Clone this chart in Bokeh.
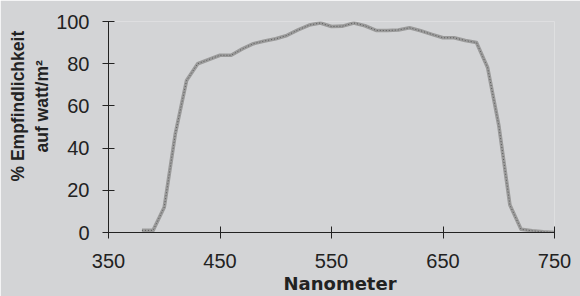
from bokeh.plotting import figure
from bokeh.models import Range1d, FixedTicker, Title
from bokeh.embed import file_html
from bokeh.resources import INLINE

# ---- data ----
nanometer = [380, 390, 400, 410, 420, 430, 440, 450, 460, 470, 480, 490, 500,
             510, 520, 530, 540, 550, 560, 570, 580, 590, 600, 610, 620, 630,
             640, 650, 660, 670, 680, 690, 700, 710, 720, 730, 740, 750]
sensitivity = [1, 1, 12, 47, 72, 80, 82, 84, 84, 87, 89.5, 90.8, 91.8,
               93.4, 96, 98.3, 99.3, 97.6, 97.8, 99.3, 98, 95.8, 95.7, 96, 97, 95.6,
               93.9, 92.3, 92.3, 91, 90, 78.2, 50.9, 13, 1.5, 0.8, 0.3, 0]
x_ticks = [350, 450, 550, 650, 750]
y_ticks = [0, 20, 40, 60, 80, 100]
x_title = "Nanometer"
y_title_1 = "% Empfindlichkeit"
y_title_2 = "auf watt/m²"

BG = "#d3d4d6"
INK = "#222222"

p = figure(width=580, height=296, output_backend="svg", toolbar_location=None,
           x_range=Range1d(350, 750), y_range=Range1d(0, 100),
           min_border_left=108, min_border_right=26, min_border_top=21,
           min_border_bottom=64)
p.background_fill_color = BG
p.border_fill_color = BG
p.outline_line_color = None
p.grid.grid_line_color = None

for ax in (p.xaxis[0], p.yaxis[0]):
    ax.axis_line_color = INK
    ax.axis_line_width = 1
    ax.major_tick_line_color = INK
    ax.major_tick_in = 6
    ax.major_tick_out = 6
    ax.minor_tick_line_color = None
    ax.major_label_text_font = "Liberation Sans"
    ax.major_label_text_font_size = "20px"
    ax.major_label_text_color = INK
p.xaxis.ticker = FixedTicker(ticks=x_ticks)
p.yaxis.ticker = FixedTicker(ticks=y_ticks)
p.xaxis.major_label_standoff = 15
p.yaxis.major_label_standoff = 13

# curve: grey band with darker dotted texture
p.line(nanometer, sensitivity, line_color="#9b9b9b", line_width=3.6, line_join="round")
p.line(nanometer, sensitivity, line_color="#5a5a5a", line_width=1, line_dash="1 2")

# x-axis title
tx = Title(text=x_title, align="left", offset=175, standoff=0,
           text_font="DejaVu Sans", text_font_style="bold",
           text_font_size="18px", text_color=INK)
p.add_layout(tx, "below")

# y-axis title, two lines (inner line first)
t2 = Title(text=y_title_2, align="left", offset=80, standoff=3,
           text_font="Liberation Sans", text_font_style="bold",
           text_font_size="17.5px", text_color=INK)
t1 = Title(text=y_title_1, align="left", offset=51, standoff=1,
           text_font="Liberation Sans", text_font_style="bold",
           text_font_size="17.5px", text_color=INK)
p.add_layout(t2, "left")
p.add_layout(t1, "left")

open("out.html", "w").write(file_html(p, INLINE))
